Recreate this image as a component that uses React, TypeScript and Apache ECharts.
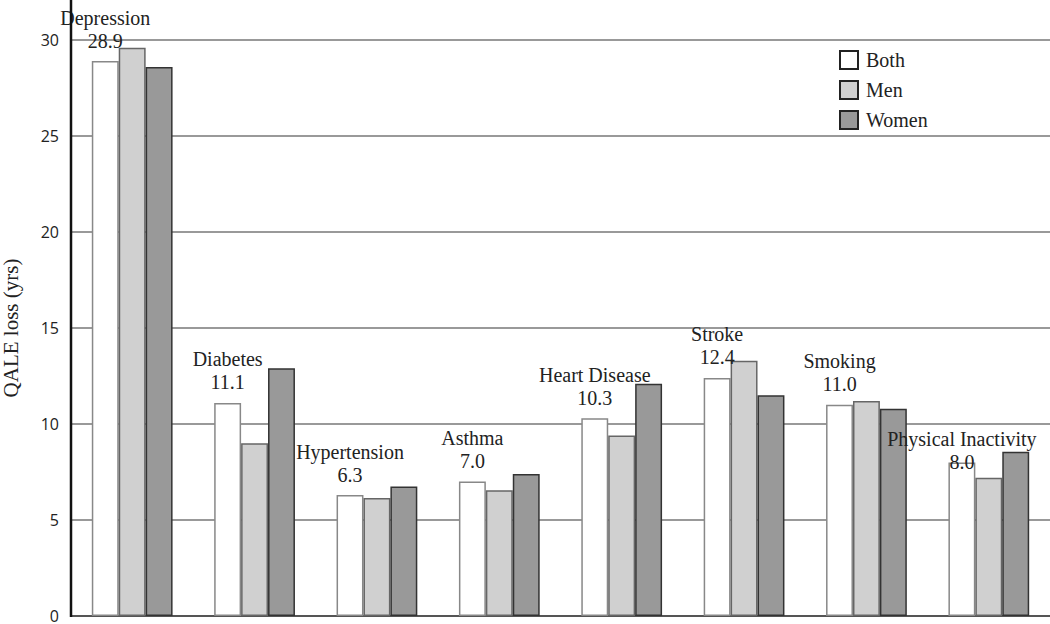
import React, { useEffect, useRef } from "react";
import * as echarts from "echarts";

const categories = [
  "Depression",
  "Diabetes",
  "Hypertension",
  "Asthma",
  "Heart Disease",
  "Stroke",
  "Smoking",
  "Physical Inactivity",
];
const bothValues = [28.9, 11.1, 6.3, 7.0, 10.3, 12.4, 11.0, 8.0];
const menValues = [29.6, 9.0, 6.15, 6.55, 9.4, 13.3, 11.2, 7.2];
const womenValues = [28.6, 12.9, 6.75, 7.4, 12.1, 11.5, 10.8, 8.55];
const yTicks = [0, 5, 10, 15, 20, 25, 30];

const SERIF = "'Liberation Serif', 'Times New Roman', serif";
const SANS = "'Open Sans', 'Noto Sans', sans-serif";

export default function App() {
  const ref = useRef<HTMLDivElement>(null);
  useEffect(() => {
    if (!ref.current) return;
    const chart = echarts.init(ref.current, null, { renderer: "svg" });
    const legendIcon = { borderColor: "#222", borderWidth: 2 };
    chart.setOption({
      animation: false,
      backgroundColor: "#fff",
      grid: {
        left: 71,
        right: 0,
        top: 40,
        bottom: 8,
        containLabel: false,
        outerBoundsMode: "none",
      },
      legend: {
        orient: "vertical",
        left: 834,
        top: 45,
        itemWidth: 18,
        itemHeight: 18,
        itemGap: 10,
        icon: "rect",
        textStyle: {
          fontFamily: SERIF,
          fontSize: 20,
          color: "#222",
          padding: [0, 0, 0, 3],
        },
        data: [
          { name: "Both", itemStyle: legendIcon },
          { name: "Men", itemStyle: legendIcon },
          { name: "Women", itemStyle: legendIcon },
        ],
      },
      xAxis: {
        type: "category",
        data: categories,
        axisLabel: { show: false },
        axisTick: { show: false },
        axisLine: { lineStyle: { color: "#555", width: 2 } },
      },
      yAxis: {
        type: "value",
        min: yTicks[0],
        max: yTicks[yTicks.length - 1],
        interval: 5,
        name: "QALE loss (yrs)",
        nameLocation: "middle",
        nameGap: 50,
        nameTextStyle: { fontFamily: SERIF, fontSize: 21, color: "#222" },
        axisLine: { show: true, lineStyle: { color: "#111", width: 2 } },
        axisTick: { show: false },
        axisLabel: {
          fontFamily: SANS,
          fontSize: 16,
          lineHeight: 14,
          color: "#222",
          margin: 12,
        },
        splitLine: { lineStyle: { color: "#999", width: 2 } },
      },
      graphic: [
        {
          type: "line",
          z: 100,
          shape: { x1: 71, y1: 0, x2: 71, y2: 617 },
          style: { stroke: "#111", lineWidth: 2.5 },
        },
      ],
      series: [
        {
          name: "Both",
          type: "bar",
          barGap: "0%",
          barCategoryGap: "34%",
          data: bothValues.map((v, i) =>
            i === categories.length - 1
              ? { value: v, label: { offset: [0, 20] } }
              : v
          ),
          itemStyle: { color: "#ffffff", borderColor: "#888", borderWidth: 1.5 },
          label: {
            show: true,
            position: "top",
            distance: 9,
            fontFamily: SERIF,
            fontSize: 20,
            lineHeight: 23,
            color: "#222",
            formatter: (p: any) => `${p.name}\n${Number(p.value).toFixed(1)}`,
          },
        },
        {
          name: "Men",
          type: "bar",
          data: menValues,
          itemStyle: { color: "#d0d0d0", borderColor: "#666", borderWidth: 1.5 },
        },
        {
          name: "Women",
          type: "bar",
          data: womenValues,
          itemStyle: { color: "#999999", borderColor: "#333", borderWidth: 1.5 },
        },
      ],
    });
    return () => chart.dispose();
  }, []);
  return (
    <div
      ref={ref}
      style={{ width: 1050, height: 624, position: "absolute", left: 0, top: 0 }}
    />
  );
}
